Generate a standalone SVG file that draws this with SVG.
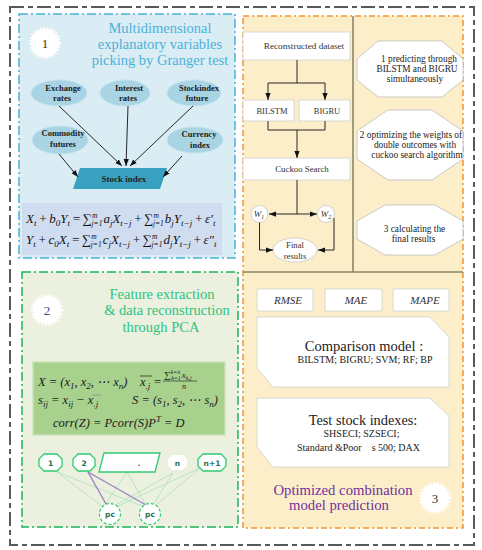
<svg xmlns="http://www.w3.org/2000/svg" width="482" height="550" viewBox="0 0 482 550">
<defs>
<marker id="ah" viewBox="0 0 8 6" refX="8" refY="3" markerWidth="7" markerHeight="5.5" markerUnits="userSpaceOnUse" orient="auto"><path d="M0,0L8,3L0,6z" fill="#111"/></marker>
<style>
text{font-family:"Liberation Serif","DejaVu Serif",serif;fill:#222}
.t1{font-size:14.5px;fill:#4cb2d8;text-anchor:middle}
.t2{font-size:14.5px;fill:#2ec27e;text-anchor:middle}
.t3{font-size:14.7px;fill:#7030a0;text-anchor:middle}
.el{fill:#a9d4e4;stroke:#c4e3ee;stroke-width:1}
.elt{font-size:8.5px;font-weight:bold;text-anchor:middle;fill:#1b1b1b}
.star{fill:#fff;stroke:#fff;stroke-width:4;stroke-dasharray:1.6 1.6}
.num{font-size:13px;text-anchor:middle;fill:#333}
.ln{stroke:#111;stroke-width:0.9;fill:none}
.box{fill:#fff;stroke:#cfcfcf;stroke-width:0.8}
.bt{font-size:9px;text-anchor:middle;fill:#333}
.oct{fill:#fff;stroke:#c3c3c3;stroke-width:0.9}
.rc{font-size:9.3px;text-anchor:middle;fill:#222}
.eq{font-size:13px;font-style:italic;fill:#111}
.fm{font-size:12.5px;font-style:italic;fill:#1a1a1a}
.s{font-size:9px}
.ss{font-size:7.5px}
.met{font-size:11px;font-style:italic;text-anchor:middle;fill:#333}
.nd{fill:#fff;stroke:#2ecc71;stroke-width:1.3}
.ndt{font-family:"DejaVu Sans",sans-serif;font-size:7.5px;font-weight:bold;text-anchor:middle;fill:#2a6e55}
.gl{stroke:#a3dcb9;stroke-width:0.7;fill:none}
.pl{stroke:#9c82c4;stroke-width:1.4;fill:none}
</style>
</defs>
<rect width="482" height="550" fill="#fff"/>
<rect id="frame" x="10" y="7" width="464" height="538" fill="none" stroke="#595959" stroke-width="2" stroke-dasharray="14 4 5 4"/>

<!-- Panel 1 -->
<g id="panel1">
<rect x="19" y="14" width="216" height="244" fill="#daecf4" stroke="#49b0d6" stroke-width="1.5" stroke-dasharray="9 3 2 3"/>
<circle class="star" cx="45" cy="43" r="14"/>
<text class="num" x="45" y="48">1</text>
<text class="t1" x="160" y="33">Multidimensional</text>
<text class="t1" x="160" y="49">explanatory variables</text>
<text class="t1" x="160" y="65">picking by Granger test</text>
</g>
<g id="node-exchange"><ellipse class="el" cx="59" cy="93" rx="28" ry="13"/><text class="elt" x="63" y="91">Exchange</text><text class="elt" x="62" y="101">rates</text></g>
<g id="node-interest"><ellipse class="el" cx="125" cy="93" rx="25" ry="13"/><text class="elt" x="129" y="91">Interest</text><text class="elt" x="128" y="101">rates</text></g>
<g id="node-stockfuture"><ellipse class="el" cx="194" cy="93" rx="27" ry="13"/><text class="elt" x="199" y="91">Stockindex</text><text class="elt" x="197" y="101">future</text></g>
<g id="node-commodity"><ellipse class="el" cx="60" cy="140" rx="28" ry="14"/><text class="elt" x="63" y="136">Commodity</text><text class="elt" x="63" y="147">futures</text></g>
<g id="node-currency"><ellipse class="el" cx="195" cy="140" rx="28" ry="13"/><text class="elt" x="199" y="137">Currency</text><text class="elt" x="200" y="148">index</text></g>
<g id="node-stockindex"><polygon points="80,168 167,168 160,189 73,189" fill="#3aa0c0"/><text x="124" y="182" font-size="9px" font-weight="bold" text-anchor="middle" fill="#13202c">Stock index</text></g>
<g id="granger-eq">
<rect x="22" y="203" width="200" height="52" fill="#d0dcef"/>
<text class="eq" x="26" y="223">X<tspan class="s" dy="3">t</tspan><tspan dy="-3" dx="2">+</tspan><tspan dx="2">b</tspan><tspan class="s" dy="3">0</tspan><tspan dy="-3">Y</tspan><tspan class="s" dy="3">t</tspan><tspan dy="-3" dx="2">=</tspan><tspan dx="2">∑</tspan><tspan class="ss" dy="-5">m</tspan><tspan class="ss" dx="-6" dy="8">j=1</tspan><tspan dy="-3" dx="1">a</tspan><tspan class="s" dy="3">j</tspan><tspan dy="-3">X</tspan><tspan class="s" dy="3">t−j</tspan><tspan dy="-3" dx="2">+</tspan><tspan dx="2">∑</tspan><tspan class="ss" dy="-5">m</tspan><tspan class="ss" dx="-6" dy="8">j=1</tspan><tspan dy="-3" dx="1">b</tspan><tspan class="s" dy="3">j</tspan><tspan dy="-3">Y</tspan><tspan class="s" dy="3">t−j</tspan><tspan dy="-3" dx="2">+</tspan><tspan dx="2">ε′</tspan><tspan class="s" dy="3">t</tspan></text>
<text class="eq" x="26" y="244">Y<tspan class="s" dy="3">t</tspan><tspan dy="-3" dx="2">+</tspan><tspan dx="2">c</tspan><tspan class="s" dy="3">0</tspan><tspan dy="-3">X</tspan><tspan class="s" dy="3">t</tspan><tspan dy="-3" dx="2">=</tspan><tspan dx="2">∑</tspan><tspan class="ss" dy="-5">m</tspan><tspan class="ss" dx="-6" dy="8">j=1</tspan><tspan dy="-3" dx="1">c</tspan><tspan class="s" dy="3">j</tspan><tspan dy="-3">X</tspan><tspan class="s" dy="3">t−j</tspan><tspan dy="-3" dx="2">+</tspan><tspan dx="2">∑</tspan><tspan class="ss" dy="-5">m</tspan><tspan class="ss" dx="-6" dy="8">j=1</tspan><tspan dy="-3" dx="1">d</tspan><tspan class="s" dy="3">j</tspan><tspan dy="-3">Y</tspan><tspan class="s" dy="3">t−j</tspan><tspan dy="-3" dx="2">+</tspan><tspan dx="2">ε″</tspan><tspan class="s" dy="3">t</tspan></text>
</g>

<!-- Panel 2 -->
<g id="panel2">
<rect x="22" y="272" width="216" height="255" fill="#ebf1de" stroke="#1fb35a" stroke-width="1.5" stroke-dasharray="9 3 2 3"/>
<circle class="star" cx="47" cy="310" r="14"/>
<text class="num" x="47" y="315" style="fill:#3a4a8a">2</text>
<text class="t2" x="162" y="299">Feature extraction</text>
<text class="t2" x="167" y="315">&amp; data reconstruction</text>
<text class="t2" x="161" y="332">through PCA</text>
</g>
<g id="pca-formulas">
<rect x="33" y="362" width="192" height="73" fill="#a9d18e" stroke="#c9e2b8" stroke-width="1.5"/>
<text class="fm" x="38" y="386">X = (x<tspan class="s" dy="3">1</tspan><tspan dy="-3">, x</tspan><tspan class="s" dy="3">2</tspan><tspan dy="-3">, ⋯ x</tspan><tspan class="s" dy="3">n</tspan><tspan dy="-3">)</tspan></text>
<text class="fm" x="140" y="386">x<tspan class="s" dy="3">.j</tspan><tspan dy="-3" dx="3">=</tspan></text>
<line x1="140" y1="376" x2="152" y2="376" stroke="#1a1a1a" stroke-width="0.7"/>
<text class="fm" x="164" y="378" style="font-size:9px">∑<tspan style="font-size:6px" dy="-4">k=n</tspan><tspan style="font-size:6px" dx="-9" dy="6">k=1</tspan><tspan dy="-2" dx="1">x</tspan><tspan style="font-size:6px" dy="2">k,j</tspan></text>
<line x1="163" y1="381" x2="197" y2="381" stroke="#1a1a1a" stroke-width="0.6"/>
<text class="fm" x="182" y="389" style="font-size:8px">n</text>
<text class="fm" x="38" y="404">s<tspan class="s" dy="3">ij</tspan><tspan dy="-3"> = x</tspan><tspan class="s" dy="3">ij</tspan><tspan dy="-3"> − x</tspan><tspan class="s" dy="3">.j</tspan></text>
<line x1="92" y1="395" x2="101" y2="395" stroke="#8a8a8a" stroke-width="0.8"/>
<text class="fm" x="132" y="404">S = (s<tspan class="s" dy="3">1</tspan><tspan dy="-3">, s</tspan><tspan class="s" dy="3">2</tspan><tspan dy="-3">, ⋯ s</tspan><tspan class="s" dy="3">n</tspan><tspan dy="-3">)</tspan></text>
<text class="fm" x="53" y="427">corr(Z) =  Pcorr(S)P<tspan class="s" dy="-5">T</tspan><tspan dy="5"> = D</tspan></text>
</g>
<g id="pca-connectors">
<line class="gl" x1="57" y1="472" x2="102" y2="506"/>
<line class="gl" x1="57" y1="472" x2="142" y2="506"/>
<line class="gl" x1="127" y1="472" x2="105" y2="505"/>
<line class="gl" x1="127" y1="472" x2="146" y2="505"/>
<line class="gl" x1="173" y1="473" x2="114" y2="506"/>
<line class="gl" x1="173" y1="473" x2="153" y2="505"/>
<line class="gl" x1="200" y1="468" x2="116" y2="507"/>
<line class="gl" x1="200" y1="468" x2="155" y2="506"/>
<line class="pl" x1="88" y1="472" x2="106" y2="504"/>
<line class="pl" x1="88" y1="472" x2="146" y2="505"/>
</g>
<g id="pca-n1"><polygon class="nd" points="44,454 57,454 62,459 62,466 57,471 44,471 39,466 39,459"/><text class="ndt" x="50.5" y="465.5">1</text></g>
<g id="pca-n2"><polygon class="nd" points="78,454 90,454 95,459 95,466 90,471 78,471 73,466 73,459"/><text class="ndt" x="84" y="465.5">2</text></g>
<g id="pca-dots"><polygon class="nd" points="104,453 160,453 155,472 99,472"/><text class="ndt" x="139" y="466">.</text></g>
<g id="pca-nn"><polygon points="172,454 183,454 188,459 188,466 183,471 172,471 167,466 167,459" fill="#fff" stroke="#e3ecdc" stroke-width="1.3"/><text class="ndt" x="177.5" y="465.5">n</text></g>
<g id="pca-nn1"><polygon class="nd" points="203,454 221,454 226,459 226,466 221,471 203,471 198,466 198,459"/><text class="ndt" x="212" y="465.5">n+1</text></g>
<g id="pca-pc1"><circle cx="110" cy="514" r="10.5" fill="#fff" stroke="#2ecc71" stroke-width="1.2" stroke-dasharray="3 2"/><text class="ndt" x="110" y="517">pc</text></g>
<g id="pca-pc2"><circle cx="150" cy="514" r="10.5" fill="#fff" stroke="#2ecc71" stroke-width="1.2" stroke-dasharray="3 2"/><text class="ndt" x="150" y="517">pc</text></g>

<!-- Panel 3 -->
<g id="panel3">
<rect x="243" y="16" width="220" height="512" fill="#fdeeca" stroke="#f39433" stroke-width="1.5" stroke-dasharray="6 3 2 3"/>
<line x1="353" y1="16" x2="353" y2="272" stroke="#8b866a" stroke-width="1.6"/>
<line x1="243" y1="272" x2="463" y2="272" stroke="#8b866a" stroke-width="1.6"/>
</g>
<g id="node-recon"><rect class="box" x="243" y="32" width="107" height="28"/><text class="bt" x="304" y="49" style="font-size:9.2px">Reconstructed dataset</text></g>
<g id="node-bilstm"><rect class="box" x="243" y="100" width="51" height="21"/><text class="bt" x="272" y="114" style="font-size:8.5px">BILSTM</text></g>
<g id="node-bigru"><rect class="box" x="299" y="100" width="51" height="21"/><text class="bt" x="327" y="114" style="font-size:8.5px">BIGRU</text></g>
<g id="node-cuckoo"><rect class="box" x="243" y="158" width="107" height="22"/><text class="bt" x="302" y="172" style="font-size:8.8px">Cuckoo Search</text></g>
<g id="node-w1"><circle cx="259.5" cy="214" r="8.5" fill="#fff" stroke="#c8c8c8" stroke-width="0.8"/><text class="bt" x="259" y="217" style="font-style:italic;font-size:9px">W<tspan style="font-size:6px" dy="1.5">1</tspan></text></g>
<g id="node-w2"><circle cx="326" cy="214" r="8.5" fill="#fff" stroke="#c8c8c8" stroke-width="0.8"/><text class="bt" x="326" y="217" style="font-style:italic;font-size:9px">W<tspan style="font-size:6px" dy="1.5">2</tspan></text></g>
<g id="node-final"><ellipse cx="295" cy="250" rx="22" ry="12" fill="#fff" stroke="#c8c8c8" stroke-width="0.8"/><text class="bt" x="295" y="248" style="font-size:8.7px">Final</text><text class="bt" x="295" y="259" style="font-size:8.7px">results</text></g>

<g id="step1"><polygon class="oct" points="378,41 442,41 463,59 463,80 442,97 378,97 357,80 357,59"/><text class="rc" x="419" y="62">1 predicting through</text><text class="rc" x="417" y="72">BILSTM  and BIGRU</text><text class="rc" x="415" y="82">simultaneously</text></g>
<g id="step2"><polygon class="oct" points="388,110 432,110 463,131 463,159 432,180 388,180 357,159 357,131"/><text class="rc" x="411" y="138">2 optimizing the weights of</text><text class="rc" x="415" y="148">double outcomes with</text><text class="rc" x="417" y="158">cuckoo search algorithm</text></g>
<g id="step3"><polygon class="oct" points="385,205 435,205 463,221 463,239 435,255 385,255 357,239 357,221"/><text class="rc" x="414.5" y="232">3 calculating the</text><text class="rc" x="413.5" y="242">final results</text></g>

<g id="metric-rmse"><rect class="box" x="257" y="289" width="56" height="22"/><text class="met" x="288" y="304">RMSE</text></g>
<g id="metric-mae"><rect class="box" x="325" y="289" width="57" height="22"/><text class="met" x="356" y="304">MAE</text></g>
<g id="metric-mape"><rect class="box" x="393" y="289" width="56" height="22"/><text class="met" x="425" y="304">MAPE</text></g>
<g id="comparison"><polygon class="box" points="257,317 430,317 449,337 449,387 273,387 257,368"/><text x="364" y="351" font-size="14.5px" text-anchor="middle" fill="#1a1a1a">Comparison model :</text><text x="365" y="363" font-size="10px" text-anchor="middle" fill="#222">BILSTM; BIGRU; SVM; RF; BP</text></g>
<g id="teststock"><polygon class="box" points="257,398 430,398 449,416 449,467 273,467 257,447"/><text x="363" y="425" font-size="14.3px" text-anchor="middle" fill="#1a1a1a">Test stock indexes:</text><text x="361.5" y="437" font-size="10px" text-anchor="middle" fill="#222">SHSECI; SZSECI;</text><text x="358.5" y="451" font-size="10px" text-anchor="middle" fill="#222" xml:space="preserve">Standard &amp;Poor    s 500; DAX</text></g>
<g id="title3"><text class="t3" x="343" y="495">Optimized combination</text><text class="t3" x="339" y="510">model prediction</text><circle class="star" cx="435" cy="498" r="14"/><text class="num" x="435" y="503">3</text></g>

<g id="connectors">
<line class="ln" x1="59" y1="106" x2="122" y2="166" marker-end="url(#ah)"/>
<line class="ln" x1="128" y1="106" x2="126" y2="166" marker-end="url(#ah)"/>
<line class="ln" x1="193" y1="106" x2="130" y2="166" marker-end="url(#ah)"/>
<line class="ln" x1="59" y1="154" x2="78" y2="177" marker-end="url(#ah)"/>
<line class="ln" x1="182" y1="156" x2="163" y2="177" marker-end="url(#ah)"/>
<line class="ln" x1="297" y1="60" x2="297" y2="83"/>
<line class="ln" x1="268" y1="83" x2="325" y2="83"/>
<line class="ln" x1="268" y1="83" x2="268" y2="100" marker-end="url(#ah)"/>
<line class="ln" x1="325" y1="83" x2="325" y2="100" marker-end="url(#ah)"/>
<polyline class="ln" points="268,121 268,130 325,130 325,121"/>
<line class="ln" x1="297" y1="130" x2="297" y2="158" marker-end="url(#ah)"/>
<line class="ln" x1="297" y1="180" x2="297" y2="214"/>
<line class="ln" x1="297" y1="214" x2="269" y2="214" marker-end="url(#ah)"/>
<line class="ln" x1="297" y1="214" x2="317" y2="214" marker-end="url(#ah)"/>
<polyline class="ln" points="259.5,222.5 259.5,250 273,250" marker-end="url(#ah)"/>
<polyline class="ln" points="334,218 334,250 318,250" marker-end="url(#ah)"/>
</g>
</svg>
